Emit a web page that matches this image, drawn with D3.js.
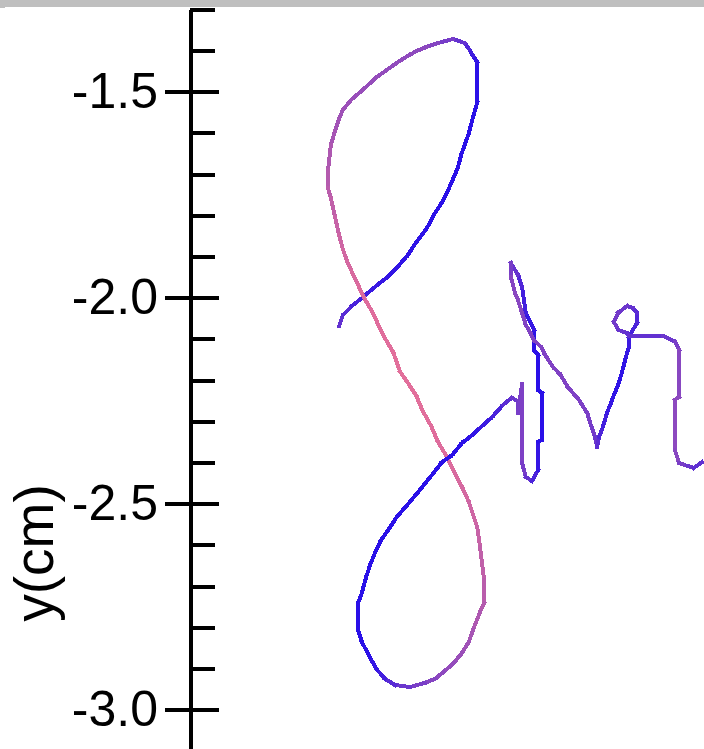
<!DOCTYPE html>
<html>
<head>
<meta charset="utf-8">
<script src="https://cdn.jsdelivr.net/npm/d3@7/dist/d3.min.js"></script>
<style>
html, body { margin: 0; padding: 0; background: #ffffff; overflow: hidden; }
svg { display: block; }
</style>
</head>
<body>
<div id="chart"></div>
<script>
// tick values (cm)
var majorTicks = [-1.5, -2.0, -2.5, -3.0];
var minorTicks = [-1.3, -1.4, -1.6, -1.7, -1.8, -1.9, -2.1, -2.2, -2.3, -2.4, -2.6, -2.7, -2.8, -2.9];
var yLabel = 'y(cm)';

// pen trace: position in cm, speed 0..1 (blue slow, pink fast)
var penX = [
    .362,.371,.393,.417,.437,.461,.483,.510,.529,.548,.575,.595,.612,.631,.650,.658,.677,.687,.697,.697,
    .687,.677,.667,.638,.602,.575,.551,.532,.505,.478,.454,.422,.391,.371,.362,.352,.342,.335,.335,.342,
    .352,.362,.371,.381,.391,.408,.417,.427,.437,.447,.464,.473,.493,.510,.529,.548,.565,.585,.602,.621,
    .641,.660,.677,.697,.704,.714,.714,.704,.687,.677,.660,.641,.616,.595,.570,.534,.498,.473,.454,.437,
    .417,.408,.408,.417,.427,.437,.447,.464,.483,.502,.529,.556,.585,.612,.636,.660,.682,.704,.733,.760,
    .781,.796,.796,.806,.806,.815,.830,.845,.845,.854,.854,.845,.845,.835,.835,.815,.806,.796,.779,.779,
    .789,.796,.806,.815,.825,.835,.854,.862,.881,.900,.917,.944,.964,.973,.983,.988,.993,1.002,1.012,1.022,
    1.029,1.039,1.048,1.058,1.065,1.065,1.075,1.085,1.085,1.075,1.061,1.039,1.029,1.039,1.061,1.065,1.148,1.177,1.187,1.187,
    1.177,1.177,1.187,1.206,1.223,1.243
];
var penY = [
    -2.069,-2.042,-2.020,-2.001,-1.984,-1.964,-1.947,-1.918,-1.896,-1.867,-1.831,-1.794,-1.768,-1.729,-1.685,-1.654,-1.600,-1.561,-1.527,-1.428,
    -1.413,-1.396,-1.382,-1.372,-1.382,-1.391,-1.401,-1.411,-1.428,-1.447,-1.464,-1.493,-1.520,-1.544,-1.566,-1.595,-1.629,-1.690,-1.734,-1.758,
    -1.804,-1.848,-1.882,-1.911,-1.933,-1.969,-1.989,-2.008,-2.025,-2.044,-2.081,-2.098,-2.132,-2.180,-2.207,-2.236,-2.275,-2.311,-2.350,-2.382,
    -2.423,-2.459,-2.496,-2.556,-2.605,-2.685,-2.741,-2.763,-2.806,-2.835,-2.862,-2.886,-2.908,-2.925,-2.935,-2.945,-2.940,-2.925,-2.903,-2.874,
    -2.835,-2.806,-2.741,-2.717,-2.680,-2.649,-2.624,-2.588,-2.561,-2.532,-2.501,-2.469,-2.433,-2.399,-2.382,-2.353,-2.336,-2.316,-2.290,-2.260,
    -2.243,-2.251,-2.280,-2.209,-2.401,-2.435,-2.445,-2.418,-2.350,-2.345,-2.231,-2.224,-2.139,-2.127,-2.078,-2.037,-1.974,-1.945,-1.916,-1.950,
    -1.989,-2.006,-2.037,-2.066,-2.083,-2.103,-2.122,-2.139,-2.168,-2.188,-2.217,-2.248,-2.280,-2.309,-2.338,-2.362,-2.338,-2.314,-2.280,-2.255,
    -2.236,-2.212,-2.183,-2.144,-2.120,-2.095,-2.078,-2.061,-2.037,-2.025,-2.020,-2.037,-2.059,-2.078,-2.086,-2.093,-2.093,-2.107,-2.127,-2.241,
    -2.248,-2.370,-2.401,-2.408,-2.413,-2.399
];
var penSpeed = [
    .25,.22,.16,.10,.08,.05,.04,.03,.02,.02,.01,0,0,0,0,0,0,0,0,.01,
    .06,.12,.20,.28,.36,.40,.42,.43,.44,.45,.46,.48,.50,.52,.54,.56,.60,.65,.68,.72,
    .76,.80,.84,.86,.88,.90,.92,.92,.93,.93,.94,.94,.95,.95,.95,.95,.95,.94,.93,.92,
    .90,.88,.85,.80,.76,.72,.68,.65,.60,.56,.52,.48,.44,.40,.36,.30,.24,.14,.07,.02,
    0,0,0,0,0,0,0,0,0,0,0,0,0,0,0,0,.02,.05,.10,.17,
    .25,.30,.30,.35,.35,.30,.20,.08,.01,0,0,0,0,0,.02,.08,.12,.20,.30,.36,
    .40,.40,.38,.36,.36,.36,.36,.36,.36,.36,.36,.35,.34,.32,.30,.24,.18,.12,.08,.05,
    .03,.02,.02,.03,.05,.10,.12,.14,.18,.22,.26,.30,.32,.28,.24,.22,.25,.30,.36,.42,
    .42,.42,.36,.30,.24,.20
];

var width = 704;
var height = 749;

var svg = d3.select('#chart').append('svg')
    .attr('width', width)
    .attr('height', height);

// grey strip left over from the window frame
svg.append('rect').attr('x', 0).attr('y', 0).attr('width', width).attr('height', 7).attr('fill', '#bfbfbf');
svg.append('rect').attr('x', 0).attr('y', 7).attr('width', 5).attr('height', 1).attr('fill', '#bfbfbf');

var x = d3.scaleLinear().domain([0, 1]).range([190, 602]);
var y = d3.scaleLinear().domain([-1.3, -3.1]).range([9.3, 750.9]);
var color = d3.scaleLinear().domain([0, .4, 1]).range(['#2a10e8', '#8a48c0', '#ea7298']);

//--- Axis ---
var axisGroup = svg.append('g').attr('transform', 'translate(190,0)');

axisGroup.append('g')
    .attr('class', 'axis')
    .call(d3.axisRight(y).tickValues(minorTicks).tickSize(25).tickSizeOuter(0).tickFormat(''));

axisGroup.append('g')
    .attr('class', 'axis')
    .call(d3.axisRight(y).tickValues(majorTicks).tickSize(29).tickSizeOuter(0).tickFormat(''));

axisGroup.append('g')
    .attr('class', 'axis')
    .call(d3.axisLeft(y).tickValues(majorTicks).tickSize(25).tickSizeOuter(0).tickPadding(7).tickFormat(function (d) { return d.toFixed(1); }));

axisGroup.selectAll('.axis path')
    .attr('stroke', '#000000')
    .attr('stroke-width', 4)
    .attr('shape-rendering', 'crispEdges')
    .attr('fill', 'none');

axisGroup.selectAll('.axis line')
    .attr('stroke', '#000000')
    .attr('stroke-width', 4)
    .attr('shape-rendering', 'crispEdges');

axisGroup.selectAll('.axis text')
    .attr('fill', '#000000')
    .attr('font-family', '"Liberation Sans", Arial, sans-serif')
    .attr('font-size', 50);

svg.append('text')
    .attr('transform', 'translate(53,553) rotate(-90)')
    .attr('text-anchor', 'middle')
    .attr('fill', '#000000')
    .attr('font-family', '"Liberation Sans", Arial, sans-serif')
    .attr('font-size', 55)
    .text(yLabel);

//--- Pen trace, one segment per sample ---
var segments = d3.range(penX.length - 1);

svg.append('g')
    .selectAll('line')
    .data(segments)
    .enter()
    .append('line')
    .attr('x1', function (i) { return x(penX[i]); })
    .attr('y1', function (i) { return y(penY[i]); })
    .attr('x2', function (i) { return x(penX[i + 1]); })
    .attr('y2', function (i) { return y(penY[i + 1]); })
    .attr('stroke', function (i) { return color((penSpeed[i] + penSpeed[i + 1]) / 2); })
    .attr('stroke-width', 4)
    .attr('stroke-linecap', 'square')
    .attr('shape-rendering', 'crispEdges');
</script>
</body>
</html>
